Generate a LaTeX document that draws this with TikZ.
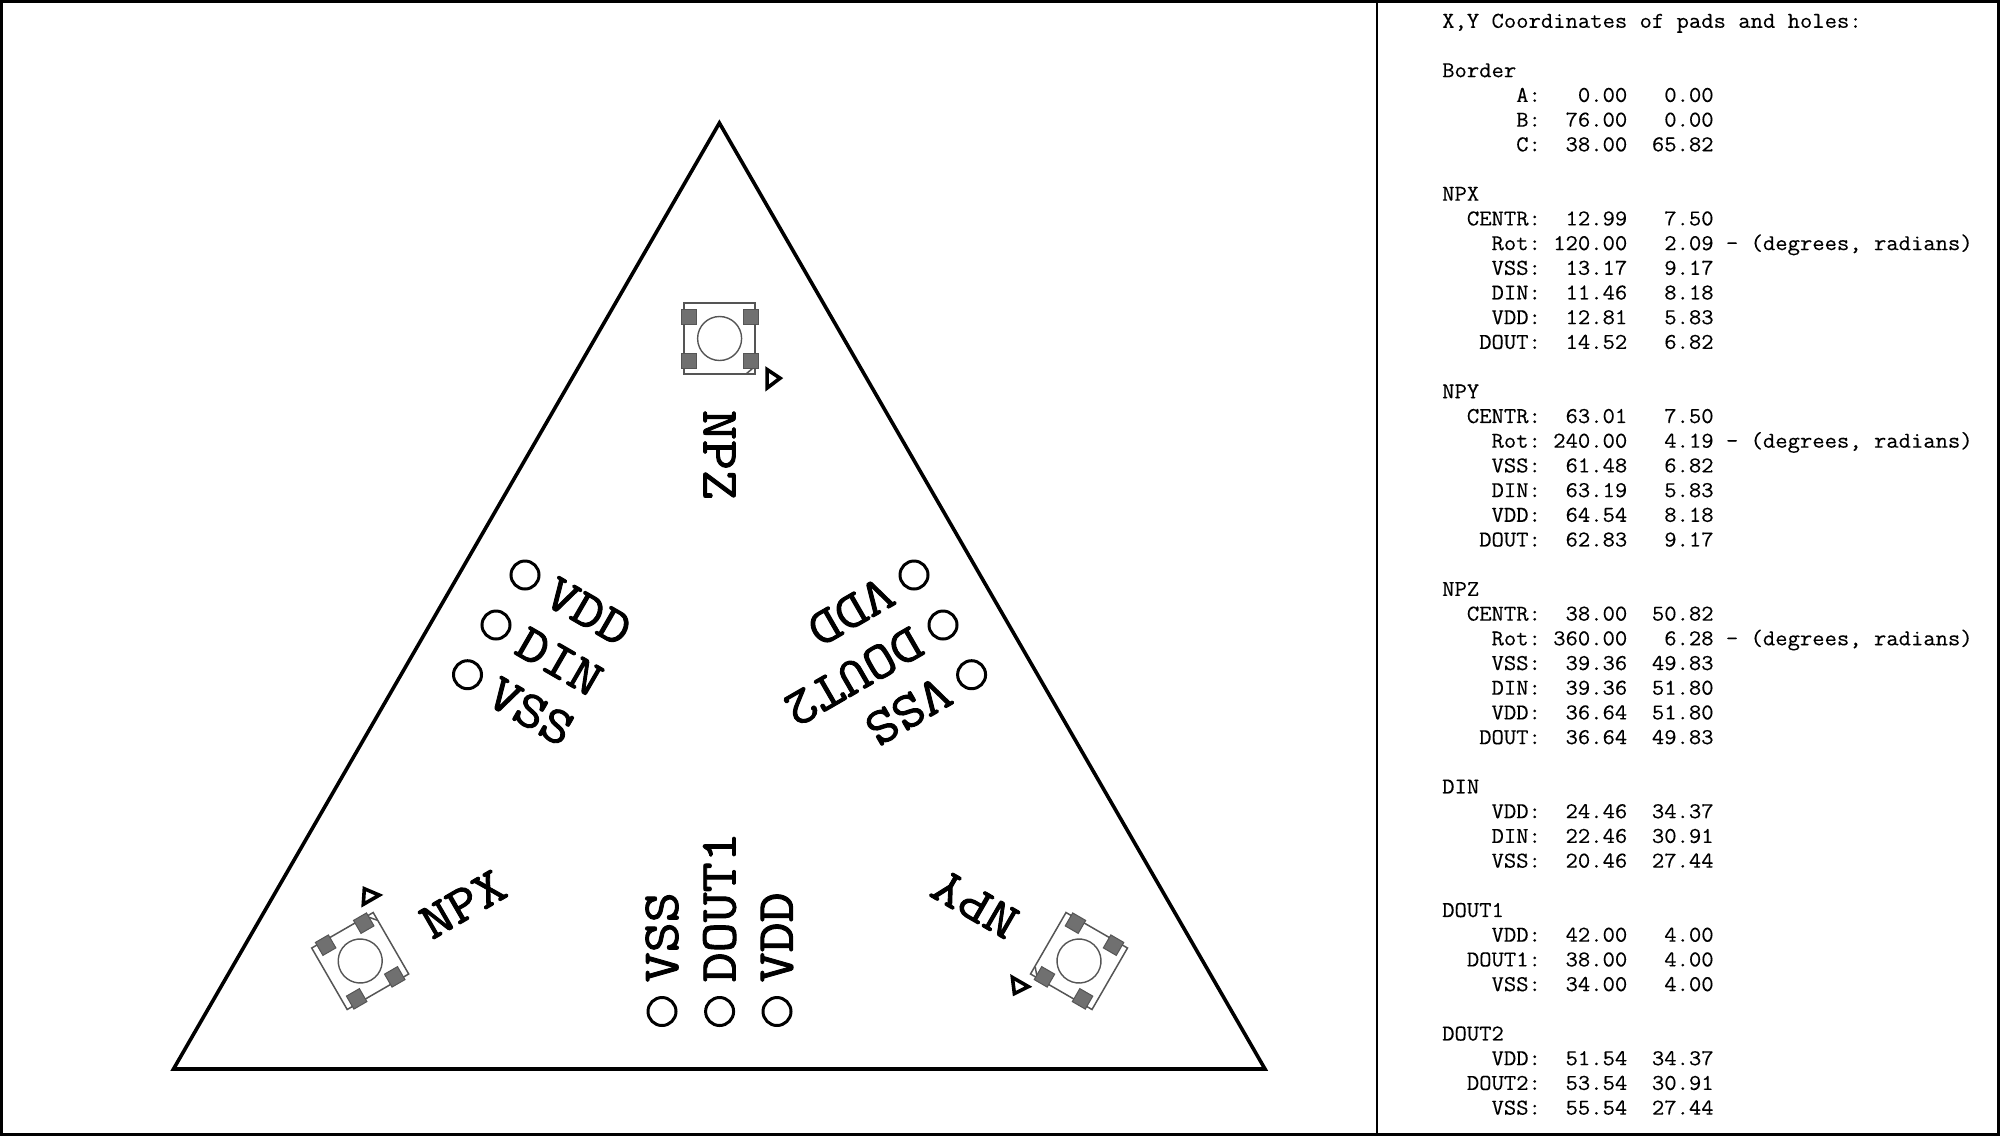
\documentclass[tikz,border=0pt]{standalone}
\usepackage{fontspec}
\usetikzlibrary{calc}
\newfontfamily\labfont[FakeBold=1.8,FakeStretch=1.12]{Latin Modern Mono}
\newfontfamily\listfont[FakeBold=0.25,FakeStretch=1.06]{Latin Modern Mono}
\definecolor{padfill}{HTML}{707070}
\definecolor{padline}{HTML}{555555}
\tikzset{
  x=1pt,y=-1pt,
  board/.style={draw=black,line width=3.6pt,line join=miter},
  hole/.style={circle,draw=black,line width=3pt,minimum size=28pt,inner sep=0pt},
  lab/.style={font=\fontsize{52}{52}\selectfont\labfont,inner sep=0pt,anchor=west},
  modlab/.style={font=\fontsize{52}{52}\selectfont\labfont,inner sep=0pt},
  body/.style={draw=padline,line width=1.5pt},
  pad/.style={fill=padfill,draw=padline,line width=1pt},
  dome/.style={draw=padline,line width=1.4pt},
  marker/.style={draw=black,line width=3.6pt,line join=miter},
  listing/.style={font=\fontsize{22.6}{24.7}\selectfont\listfont,inner sep=0pt,anchor=north west,align=left}
}
\newcommand{\padmodule}[3]{%
  \begin{scope}[shift={(#1,#2)},rotate=#3]
    \draw[body] (-35.5,-35.5) rectangle (35.5,35.5);
    \draw[body] (27,35) -- (34,29);
    \draw[dome] (0,0) circle (22pt);
    \foreach \px/\py in {-31/-22,31/-22,-31/22,31/22}
      \draw[pad] (\px-7.5,\py-7.5) rectangle (\px+7.5,\py+7.5);
    \draw[marker] (47.5,31) -- (60.5,39.7) -- (47.5,49.5) -- cycle;
  \end{scope}}
\begin{document}
\begin{tikzpicture}
\useasboundingbox (0,0) rectangle (2000,1136);
\fill[white] (0,0) rectangle (2000,1136);
\draw[black,line width=3pt] (1.5,1.5) rectangle (1998.5,1134.5);
\coordinate (divtop) at (1377,0);
\coordinate (divbot) at (1377,1136);
\draw[black,line width=2pt] (divtop) -- (divbot);

\coordinate (A) at (173.5,1069);
\coordinate (B) at (1265,1069);
\coordinate (C) at (719.4,123);
\draw[board] (A) -- (B) -- (C) -- cycle;

\padmodule{360.2}{961}{120}
\padmodule{1079}{961}{240}
\padmodule{719.6}{338.5}{0}

\node[modlab,rotate=30] (npx) at (463,904) {NPX};
\node[modlab,rotate=150] (npy) at (975,904) {NPY};
\node[modlab,rotate=-90] (npz) at (719.5,455) {NPZ};

% left group
\node[hole] (h1) at (525,575) {};
\node[hole] (h2) at (496,625) {};
\node[hole] (h3) at (467.5,674.7) {};
\node[lab,rotate=-30] (t1) at ($(h1)+(-30:28pt)$) {VDD};
\node[lab,rotate=-30] (t2) at ($(h2)+(-30:28pt)$) {DIN};
\node[lab,rotate=-30] (t3) at ($(h3)+(-30:28pt)$) {VSS};
% right group
\node[hole] (h4) at (914,575) {};
\node[hole] (h5) at (943,625) {};
\node[hole] (h6) at (971.6,674.7) {};
\node[lab,rotate=210] (t4) at ($(h4)+(210:28pt)$) {VDD};
\node[lab,rotate=210] (t5) at ($(h5)+(210:28pt)$) {DOUT2};
\node[lab,rotate=210] (t6) at ($(h6)+(210:28pt)$) {VSS};
% bottom group
\node[hole] (h7) at (662,1011.5) {};
\node[hole] (h8) at (719.6,1011.5) {};
\node[hole] (h9) at (777,1011.5) {};
\node[lab,rotate=90] (t7) at ($(h7)+(90:29pt)$) {VSS};
\node[lab,rotate=90] (t8) at ($(h8)+(90:29pt)$) {DOUT1};
\node[lab,rotate=90] (t9) at ($(h9)+(90:29pt)$) {VDD};

\node[listing] (list) at (1442,13.5) {%
X,Y~Coordinates~of~pads~and~holes:\\
~\\
Border\\
~~~~~~A:~~~0.00~~~0.00\\
~~~~~~B:~~76.00~~~0.00\\
~~~~~~C:~~38.00~~65.82\\
~\\
NPX\\
~~CENTR:~~12.99~~~7.50\\
~~~~Rot:~120.00~~~2.09~-~(degrees,~radians)\\
~~~~VSS:~~13.17~~~9.17\\
~~~~DIN:~~11.46~~~8.18\\
~~~~VDD:~~12.81~~~5.83\\
~~~DOUT:~~14.52~~~6.82\\
~\\
NPY\\
~~CENTR:~~63.01~~~7.50\\
~~~~Rot:~240.00~~~4.19~-~(degrees,~radians)\\
~~~~VSS:~~61.48~~~6.82\\
~~~~DIN:~~63.19~~~5.83\\
~~~~VDD:~~64.54~~~8.18\\
~~~DOUT:~~62.83~~~9.17\\
~\\
NPZ\\
~~CENTR:~~38.00~~50.82\\
~~~~Rot:~360.00~~~6.28~-~(degrees,~radians)\\
~~~~VSS:~~39.36~~49.83\\
~~~~DIN:~~39.36~~51.80\\
~~~~VDD:~~36.64~~51.80\\
~~~DOUT:~~36.64~~49.83\\
~\\
DIN\\
~~~~VDD:~~24.46~~34.37\\
~~~~DIN:~~22.46~~30.91\\
~~~~VSS:~~20.46~~27.44\\
~\\
DOUT1\\
~~~~VDD:~~42.00~~~4.00\\
~~DOUT1:~~38.00~~~4.00\\
~~~~VSS:~~34.00~~~4.00\\
~\\
DOUT2\\
~~~~VDD:~~51.54~~34.37\\
~~DOUT2:~~53.54~~30.91\\
~~~~VSS:~~55.54~~27.44};
\end{tikzpicture}
\end{document}
